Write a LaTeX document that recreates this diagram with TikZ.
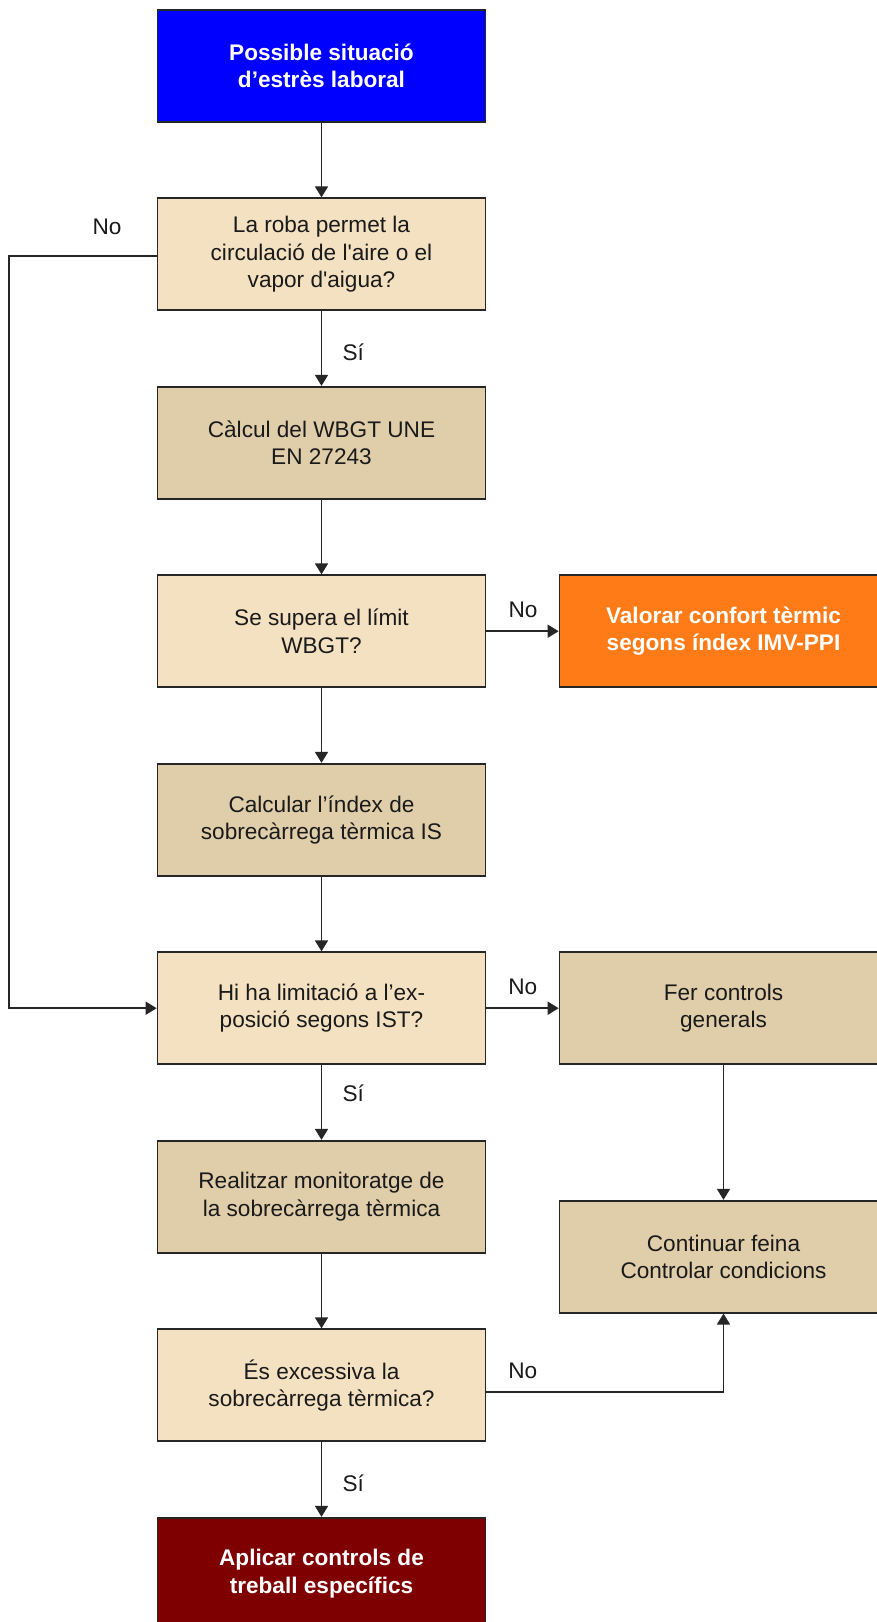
\documentclass[tikz,border=0pt]{standalone}
\usepackage{fontspec}
\setmainfont{Liberation Sans}
\usetikzlibrary{arrows.meta}
\definecolor{edge}{HTML}{262626}
\definecolor{inkc}{HTML}{1A1A1A}
\definecolor{startblue}{HTML}{0000FF}
\definecolor{askfill}{HTML}{F4E1C1}
\definecolor{actfill}{HTML}{E0CDAA}
\definecolor{comfort}{HTML}{FF7B17}
\definecolor{endred}{HTML}{7F0000}
\begin{document}
\begin{tikzpicture}[x=1pt,y=-1pt,
  txt/.style={font=\fontsize{22.6}{27.3}\selectfont, text=inkc},
  flowbox/.style={txt, draw=edge, line width=1.7pt, minimum width=328pt,
    minimum height=112pt, align=center, inner sep=0pt},
  askbox/.style={flowbox, fill=askfill},
  actbox/.style={flowbox, fill=actfill},
  keybox/.style={flowbox, text=white, font=\fontsize{22.6}{27.3}\selectfont\bfseries},
  arr/.style={draw=edge, line width=1.7pt, -{Triangle[length=11pt,width=13pt]}},
  lbl/.style={txt}]
\useasboundingbox (0,0) rectangle (877,1622);
\fill[white] (0,0) rectangle (877,1622);

% left column
\node[keybox, fill=startblue] (b1) at (321.5,65.7) {Possible situació\\d’estrès laboral};
\node[askbox] (b2) at (321.5,254.2) {La roba permet la\\circulació de l\textquotesingle aire o el\\vapor d\textquotesingle aigua?};
\node[actbox] (b3) at (321.5,442.7) {Càlcul del WBGT UNE\\EN 27243};
\node[askbox] (b4) at (321.5,631.2) {Se supera el límit\\WBGT?};
\node[actbox] (b5) at (321.5,819.7) {Calcular l’índex de\\sobrecàrrega tèrmica IS};
\node[askbox] (b6) at (321.5,1008.2) {Hi ha limitació a l’ex-\\posició segons IST?};
\node[actbox] (b7) at (321.5,1196.7) {Realitzar monitoratge de\\la sobrecàrrega tèrmica};
\node[askbox] (b8) at (321.5,1385.2) {És excessiva la\\sobrecàrrega tèrmica?};
\node[keybox, fill=endred] (b9) at (321.5,1573.7) {Aplicar controls de\\treball específics};

% right column
\node[keybox, fill=comfort] (valorar) at (723.5,631.2) {Valorar confort tèrmic\\segons índex IMV-PPI};
\node[actbox] (fer) at (723.5,1008.2) {Fer controls\\generals};
\node[actbox] (cont) at (723.5,1256.7) {Continuar feina\\Controlar condicions};

% connectors
\draw[arr] (b1) -- (b2);
\draw[arr] (b2) -- (b3);
\draw[arr] (b3) -- (b4);
\draw[arr] (b4) -- (b5);
\draw[arr] (b5) -- (b6);
\draw[arr] (b6) -- (b7);
\draw[arr] (b7) -- (b8);
\draw[arr] (b8) -- (b9);
\coordinate (loop) at (9.3,256);
\draw[arr] ([yshift=-1.8pt]b2.west) -- (loop) |- (b6.west);
\draw[arr] (b4) -- (valorar);
\draw[arr] (b6) -- (fer);
\draw[arr] (fer) -- (cont);
\draw[arr] ([yshift=-6.5pt]b8.east) -| (cont.south);

% branch labels
\node[lbl] (n1) at (107,226.7) {No};
\node[lbl] (s1) at (353.3,352.7) {Sí};
\node[lbl] (n2) at (523,610) {No};
\node[lbl] (n3) at (522.7,986.7) {No};
\node[lbl] (s2) at (353.3,1093.2) {Sí};
\node[lbl] (n4) at (522.7,1370.7) {No};
\node[lbl] (s3) at (353.3,1483.3) {Sí};
\end{tikzpicture}
\end{document}
